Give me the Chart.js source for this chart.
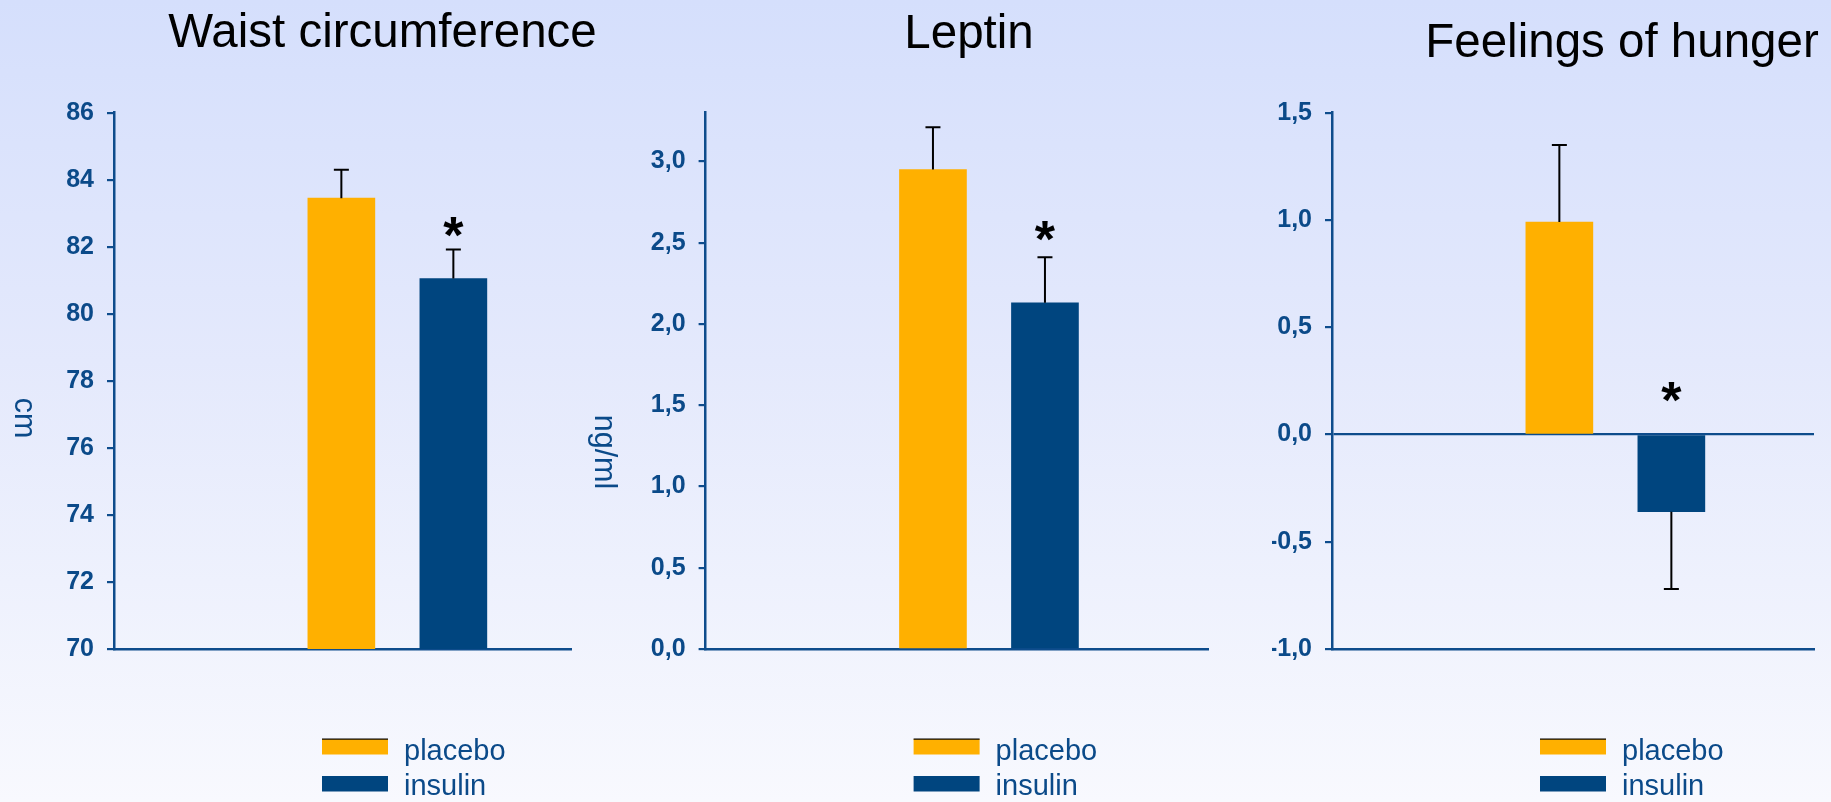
<!DOCTYPE html>
<html>
<head>
<meta charset="utf-8">
<title>Waist circumference, leptin and feelings of hunger: placebo vs insulin</title>
<script src="https://cdn.jsdelivr.net/npm/chart.js@4.4.1/dist/chart.umd.min.js"></script>
<style>
  html, body { margin: 0; padding: 0; }
  body {
    width: 1831px; height: 802px; overflow: hidden; position: relative;
    background: linear-gradient(180deg, #d5dffc 0%, #e4e9fc 45%, #f8f9fe 100%);
  }
  canvas { position: absolute; left: 0; top: 0; }
</style>
</head>
<body>
<canvas id="waist" width="1831" height="802"></canvas>
<canvas id="leptin" width="1831" height="802"></canvas>
<canvas id="hunger" width="1831" height="802"></canvas>
<script>
// ---- data -------------------------------------------------------------
const groups = ['placebo', 'insulin'];

const waistMean = [83.45, 81.05];
const waistSem = [0.85, 0.87];
const waistSig = ['', '*'];
const waistTicks = [70, 72, 74, 76, 78, 80, 82, 84, 86];

const leptinMean = [2.95, 2.13];
const leptinSem = [0.26, 0.28];
const leptinSig = ['', '*'];
const leptinTicks = [0, 0.5, 1, 1.5, 2, 2.5, 3];

const hungerMean = [0.99, -0.36];
const hungerSem = [0.36, 0.36];
const hungerSig = ['', '*'];
const hungerTicks = [-1, -0.5, 0, 0.5, 1, 1.5];

// ---- styling ----------------------------------------------------------
const FONT = '"Liberation Sans", Arial, Helvetica, sans-serif';
const AXIS_BLUE = '#0e4c8c';
const TEXT_BLUE = '#0b4a89';
const BAR_COLORS = ['#ffb000', '#00457f'];
const AREA_TOP = 112.7;
const AREA_BOTTOM = 649;
const Y_AXIS_W = 60;
const SLOT_PX = 112;     // pixels per slot on the hidden x scale
const X_MIN = -0.03;
const BAR_W = 67;
const CAP_W = 15;

Chart.defaults.font.family = FONT;

const commaDecimal = v => v.toFixed(1).replace('.', ',');

// titles, unit labels, error bars, significance marks and legend
const panelDecor = {
  id: 'panelDecor',
  afterDatasetsDraw(chart, args, o) {
    const ctx = chart.ctx;
    const y = chart.scales.y;
    const base = y.getBaseValue();
    ctx.save();
    chart.data.datasets.forEach((ds, i) => {
      const bar = chart.getDatasetMeta(i).data[0];
      const v = ds.data[0].y;
      const up = v >= base;
      const yBar = y.getPixelForValue(v);
      const yEnd = y.getPixelForValue(up ? v + ds.sem : v - ds.sem);
      ctx.strokeStyle = '#000';
      ctx.lineWidth = 2;
      ctx.beginPath();
      ctx.moveTo(bar.x, yBar);
      ctx.lineTo(bar.x, yEnd);
      ctx.moveTo(bar.x - CAP_W / 2, yEnd);
      ctx.lineTo(bar.x + CAP_W / 2, yEnd);
      ctx.stroke();
      if (ds.sig) {
        const top = up ? yEnd : y.getPixelForValue(base);
        const cy = top - o.sigGap;
        const fs = 52;
        ctx.fillStyle = '#000';
        ctx.font = 'bold ' + fs + 'px ' + FONT;
        ctx.textAlign = 'center';
        ctx.textBaseline = 'alphabetic';
        ctx.fillText(ds.sig, bar.x, cy + 0.55 * fs);
      }
    });
    ctx.restore();
  },
  afterDraw(chart, args, o) {
    const ctx = chart.ctx;
    const left = chart.chartArea.left;
    ctx.save();
    // panel title
    ctx.fillStyle = '#000';
    ctx.font = '47.5px ' + FONT;
    ctx.textAlign = 'center';
    ctx.textBaseline = 'alphabetic';
    ctx.fillText(o.title, o.titleX, o.titleY);
    // unit label, reading downwards
    if (o.unit) {
      ctx.save();
      ctx.translate(o.unitX, o.unitY);
      ctx.rotate(Math.PI / 2);
      ctx.fillStyle = TEXT_BLUE;
      ctx.font = '30.5px ' + FONT;
      ctx.textAlign = 'center';
      ctx.fillText(o.unit, 0, 0);
      ctx.restore();
    }
    // legend
    chart.data.datasets.forEach((ds, i) => {
      const sx = left + 208;
      const sy = 739 + i * 37;
      ctx.fillStyle = ds.backgroundColor;
      ctx.fillRect(sx, sy, 66, 15.5);
      if (i === 0) {
        ctx.fillStyle = '#000';
        ctx.fillRect(sx, sy - 0.5, 66, 1.2);
      }
      ctx.fillStyle = TEXT_BLUE;
      ctx.font = '29px ' + FONT;
      ctx.textAlign = 'left';
      ctx.fillText(ds.label, left + 290, 760 + i * 35);
    });
    ctx.restore();
  }
};

function drawPanel(p) {
  const datasets = groups.map((g, i) => ({
    label: g,
    data: [{ x: i + 2, y: p.mean[i] }],
    sem: p.sem[i],
    sig: p.sig[i],
    backgroundColor: BAR_COLORS[i],
    borderWidth: 0,
    barThickness: BAR_W,
    grouped: false
  }));

  new Chart(document.getElementById(p.id), {
    type: 'bar',
    data: { datasets },
    plugins: [panelDecor],
    options: {
      responsive: false,
      animation: false,
      events: [],
      layout: {
        padding: {
          left: p.left - Y_AXIS_W,
          right: 1831 - p.right,
          top: AREA_TOP,
          bottom: 802 - AREA_BOTTOM - 1
        }
      },
      scales: {
        x: {
          type: 'linear',
          offset: false,
          min: X_MIN,
          max: X_MIN + (p.right - p.left) / SLOT_PX,
          grid: { display: false, drawTicks: false, offset: false },
          ticks: { display: false },
          border: { display: true, color: AXIS_BLUE, width: 2.5 },
          afterFit: s => { s.height = 1; }
        },
        y: {
          min: p.min,
          max: p.max,
          afterBuildTicks: s => { s.ticks = p.ticks.map(v => ({ value: v })); },
          grid: {
            drawOnChartArea: p.zeroLine,
            color: c => (p.zeroLine && c.tick && c.tick.value === 0) ? AXIS_BLUE : 'rgba(0,0,0,0)',
            tickColor: AXIS_BLUE,
            tickLength: 7,
            lineWidth: 2.2
          },
          border: { display: true, color: AXIS_BLUE, width: 2.5 },
          ticks: {
            color: TEXT_BLUE,
            padding: 13,
            font: { family: FONT, size: 25, weight: 'bold' },
            callback: v => p.fmt(v)
          },
          afterFit: s => { s.width = Y_AXIS_W; }
        }
      },
      plugins: {
        legend: { display: false },
        title: { display: false },
        tooltip: { enabled: false },
        panelDecor: {
          title: p.title, titleX: p.titleX, titleY: p.titleY,
          unit: p.unit, unitX: p.unitX, unitY: p.unitY,
          sigGap: p.sigGap
        }
      }
    }
  });
}

drawPanel({
  id: 'waist', title: 'Waist circumference', titleX: 382.5, titleY: 47,
  unit: 'cm', unitX: 15, unitY: 418,
  left: 114, right: 571, min: 70, max: 86, ticks: waistTicks,
  mean: waistMean, sem: waistSem, sig: waistSig,
  fmt: v => String(v), zeroLine: false, sigGap: 25
});

drawPanel({
  id: 'leptin', title: 'Leptin', titleX: 969, titleY: 48,
  unit: 'ng/ml', unitX: 595, unitY: 452,
  left: 705.6, right: 1208, min: 0, max: 3.3, ticks: leptinTicks,
  mean: leptinMean, sem: leptinSem, sig: leptinSig,
  fmt: commaDecimal, zeroLine: false, sigGap: 29
});

drawPanel({
  id: 'hunger', title: 'Feelings of hunger', titleX: 1622, titleY: 57,
  unit: '', unitX: 0, unitY: 0,
  left: 1332, right: 1814, min: -1, max: 1.5, ticks: hungerTicks,
  mean: hungerMean, sem: hungerSem, sig: hungerSig,
  fmt: commaDecimal, zeroLine: true, sigGap: 45
});
</script>
</body>
</html>
